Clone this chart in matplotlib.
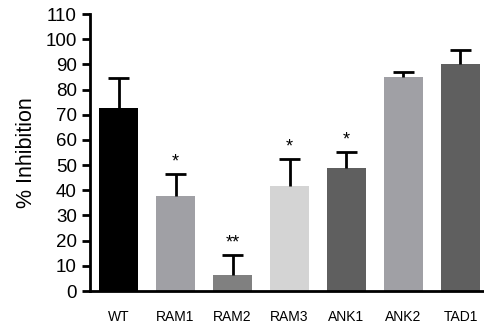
import matplotlib.pyplot as plt

plt.rcParams['font.family'] = ['Liberation Sans', 'DejaVu Sans']

labels = ['WT', 'RAM1', 'RAM2', 'RAM3', 'ANK1', 'ANK2', 'TAD1']
values = [72.6, 37.7, 6.3, 41.7, 48.8, 85.0, 90.0]
errors = [11.9, 8.7, 7.9, 10.7, 6.4, 1.9, 5.6]
stars = ['', '*', '**', '*', '*', '', '']
colors = ['#000000', '#a0a0a5', '#808080', '#d4d4d4', '#5f5f5f', '#a0a0a5', '#5f5f5f']

fig = plt.figure(figsize=(4.85, 3.29), dpi=100)
ax = fig.add_axes([0.1856, 0.1155, 0.8144, 0.8419])

x = list(range(len(labels)))
ax.bar(x, values, width=0.7, color=colors, zorder=2)

# upper error bars only
tops = [v + e for v, e in zip(values, errors)]
ax.vlines(x, values, tops, color='black', linewidth=2, zorder=3)
ax.hlines(tops, [i - 0.18 for i in x], [i + 0.18 for i in x], color='black', linewidth=2, zorder=3)

for i in x:
    if stars[i]:
        ax.text(i, tops[i] + 1.5, stars[i], ha='center', va='bottom', fontsize=13)

ax.set_xlim(-0.5, 6.43)
ax.set_ylim(0, 110)
ax.set_yticks(range(0, 111, 10))
ax.set_xticks(x)
ax.set_xticklabels(labels, fontsize=10)
ax.tick_params(axis='x', length=0, pad=14)
ax.tick_params(axis='y', labelsize=13.5, width=2, length=6)
ax.set_ylabel('% Inhibition', fontsize=15.5, labelpad=6)

for s in ['top', 'right']:
    ax.spines[s].set_visible(False)
for s in ['left', 'bottom']:
    ax.spines[s].set_linewidth(2)

fig.savefig('out.png', dpi=100)
